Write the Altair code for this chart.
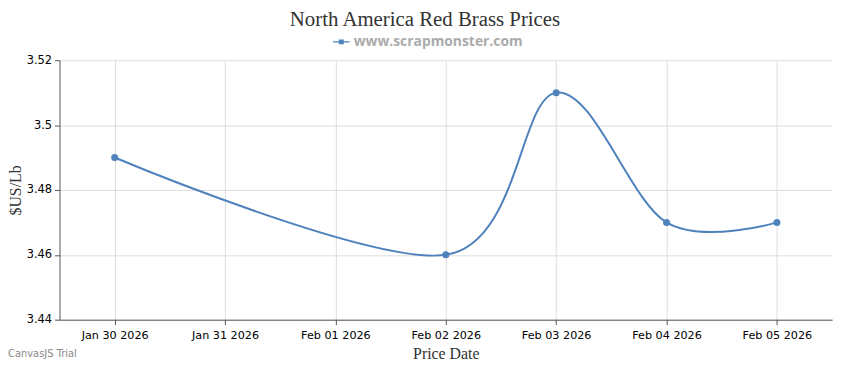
import altair as alt
import pandas as pd

dates = ["2026-01-30", "2026-02-02", "2026-02-03", "2026-02-04", "2026-02-05"]
prices = [3.49, 3.46, 3.51, 3.47, 3.47]
series = ["www.scrapmonster.com"] * len(dates)
chart_title = "North America Red Brass Prices"
trial_text = "CanvasJS Trial"

df = pd.DataFrame({"date": dates, "price": prices, "series": series})

COLOR = "#4F81BC"

xscale = alt.Scale(domain=["2026-01-29T12:00:00", "2026-02-05T12:00:00"])
yscale = alt.Scale(domain=[3.44, 3.52], nice=False, zero=False)

xaxis = alt.Axis(
    title="Price Date", format="%b %d %Y", tickCount={"interval": "day", "step": 1},
    labelFont="DejaVu Sans", labelFontSize=11.3, labelColor="#000000",
    titleFont="Liberation Serif", titleFontSize=16, titleFontWeight="normal", titleColor="#333333",
    titlePadding=5, labelPadding=5, tickSize=5, tickColor="#555555",
    domainColor="#555555", gridColor="#DDDDDD", labelFlush=False,
)
yaxis = alt.Axis(
    title="$US/Lb", values=[3.44, 3.46, 3.48, 3.5, 3.52], format="~g",
    labelFont="DejaVu Sans", labelFontSize=11.5, labelColor="#000000",
    titleFont="Liberation Serif", titleFontSize=16, titleFontWeight="normal", titleColor="#333333",
    titlePadding=3, labelPadding=3, tickSize=5, tickColor="#555555",
    domainColor="#555555", gridColor="#DDDDDD",
)

color = alt.Color(
    "series:N", scale=alt.Scale(range=[COLOR]),
    legend=alt.Legend(
        title=None, orient="none", legendX=276, legendY=-27, direction="horizontal",
        symbolType="M-1,-0.08H-0.3V-0.3H0.3V-0.08H1V0.08H0.3V0.3H-0.3V0.08H-1Z",
        symbolSize=280, symbolFillColor=COLOR, symbolStrokeColor=COLOR, symbolStrokeWidth=0,
        labelFont="Open Sans", labelFontSize=14, labelFontWeight="bold", labelColor="#ABABAB",
        labelOffset=4, labelLimit=400,
    ),
)

base = alt.Chart(df).encode(
    x=alt.X("date:T", scale=xscale, axis=xaxis),
    y=alt.Y("price:Q", scale=yscale, axis=yaxis),
)

line = base.mark_line(interpolate="cardinal", strokeWidth=2, color=COLOR).encode(color=color)
points = base.mark_point(filled=True, size=50, opacity=1, color=COLOR)

title = alt.Chart(pd.DataFrame({"t": [chart_title]})).mark_text(
    align="center", baseline="alphabetic", font="Liberation Serif", fontSize=21, color="#333333"
).encode(text="t:N", x=alt.value(369), y=alt.value(-35))

trial = alt.Chart(pd.DataFrame({"t": [trial_text]})).mark_text(
    align="left", baseline="bottom", font="DejaVu Sans", fontSize=10, color="#888888"
).encode(text="t:N", x=alt.value(-52), y=alt.value(302))

chart = alt.layer(line, points, title, trial).properties(
    width=780, height=262,
    autosize=alt.AutoSizeParams(type="none"),
    padding={"left": 52, "top": 51, "right": 10, "bottom": 41},
).configure_view(stroke=None)

chart.save("out.html", embed_options={"renderer": "svg", "actions": False})
